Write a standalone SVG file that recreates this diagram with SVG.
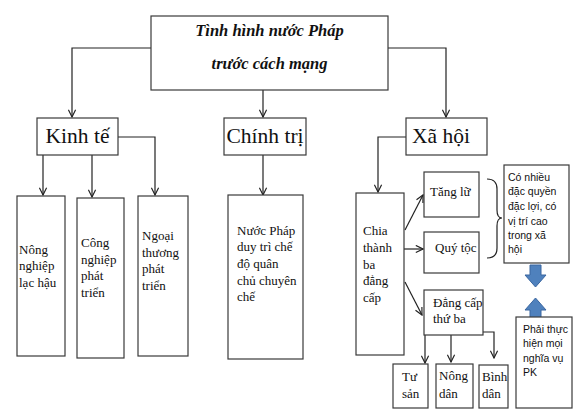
<svg xmlns="http://www.w3.org/2000/svg" width="581" height="420" viewBox="0 0 581 420">
<defs>
<style>
.box{fill:#fff;stroke:#3a3a3a;stroke-width:1.2}
.ln{fill:none;stroke:#222;stroke-width:1.2}
.t{font-family:"Liberation Serif","Times New Roman",serif;fill:#111}
.s{font-family:"Liberation Sans",Arial,sans-serif;fill:#111;font-size:10.5px}
.big{font-size:21.5px;text-anchor:middle}
.m{font-size:13px}
.blue{fill:#4f81bd;stroke:#3a66a0;stroke-width:1}
</style>
<marker id="ah" viewBox="0 0 10 10" refX="9" refY="5" markerWidth="9" markerHeight="9" markerUnits="userSpaceOnUse" orient="auto">
<path d="M1,1 L9,5 L1,9" fill="none" stroke="#222" stroke-width="1.3"/>
</marker>
</defs>
<rect width="581" height="420" fill="#fff"/>

<g id="connectors">
<path class="ln" d="M151,48 H72 V117" marker-end="url(#ah)"/>
<path class="ln" d="M263,90 V117" marker-end="url(#ah)"/>
<path class="ln" d="M388,48 H446 V117" marker-end="url(#ah)"/>
<path class="ln" d="M43,155 V195" marker-end="url(#ah)"/>
<path class="ln" d="M92,155 V197" marker-end="url(#ah)"/>
<path class="ln" d="M118,137 H155 V195" marker-end="url(#ah)"/>
<path class="ln" d="M263,155 V195" marker-end="url(#ah)"/>
<path class="ln" d="M406,137 H378 V192" marker-end="url(#ah)"/>
<path class="ln" d="M405,230 L423,195" marker-end="url(#ah)"/>
<path class="ln" d="M404,249 H423" marker-end="url(#ah)"/>
<path class="ln" d="M405,282 L422,315" marker-end="url(#ah)"/>
<path class="ln" d="M425,335 V363" marker-end="url(#ah)"/>
<path class="ln" d="M451,335 V362" marker-end="url(#ah)"/>
<path class="ln" d="M483,332 H494 V358" marker-end="url(#ah)"/>
<path class="ln" d="M487,179 Q497,179 497,189 V210 Q497,218 502,218 Q497,218 497,226 V248 Q497,258 487,258"/>
<path class="blue" d="M530,265 H541 V275 H546 L535.5,287 L525,275 H530 Z"/>
<path class="blue" d="M535.5,298 L546,310 H541 V318 H530 V310 H525 Z"/>
</g>

<g id="title">
<rect class="box" x="151" y="16" width="237" height="74"/>
<text class="t" x="269.5" y="36" font-size="16.5" font-weight="bold" font-style="italic" text-anchor="middle">Tình hình nước Pháp</text>
<text class="t" x="269.5" y="69" font-size="16.5" font-weight="bold" font-style="italic" text-anchor="middle">trước cách mạng</text>
</g>

<g id="kinhte">
<rect class="box" x="37" y="118" width="81" height="37"/>
<text class="t big" x="77.5" y="143">Kinh tế</text>
</g>
<g id="chinhtri">
<rect class="box" x="224" y="118" width="82" height="37"/>
<text class="t big" x="265" y="143">Chính trị</text>
</g>
<g id="xahoi">
<rect class="box" x="406" y="118" width="81" height="37"/>
<text class="t big" x="441" y="143">Xã hội</text>
</g>

<g id="nongnghiep">
<rect class="box" x="17" y="196" width="48" height="160"/>
<text class="t m"><tspan x="19" y="254">Nông</tspan><tspan x="19" y="270">nghiệp</tspan><tspan x="19" y="287">lạc hậu</tspan></text>
</g>
<g id="congnghiep">
<rect class="box" x="77" y="198" width="47" height="160"/>
<text class="t m"><tspan x="81" y="247">Công</tspan><tspan x="81" y="264">nghiệp</tspan><tspan x="81" y="280">phát</tspan><tspan x="81" y="297">triển</tspan></text>
</g>
<g id="ngoaithuong">
<rect class="box" x="138" y="196" width="50" height="160"/>
<text class="t m"><tspan x="142" y="240">Ngoại</tspan><tspan x="142" y="257">thương</tspan><tspan x="142" y="273">phát</tspan><tspan x="142" y="290">triển</tspan></text>
</g>
<g id="nuocphap">
<rect class="box" x="228" y="195" width="75" height="164"/>
<text class="t m"><tspan x="237" y="235">Nước Pháp</tspan><tspan x="237" y="251">duy trì chế</tspan><tspan x="237" y="268">độ quân</tspan><tspan x="237" y="285">chủ chuyên</tspan><tspan x="237" y="301">chế</tspan></text>
</g>

<g id="chia">
<rect class="box" x="356" y="193" width="48" height="162"/>
<text class="t m"><tspan x="363" y="235">Chia</tspan><tspan x="363" y="252">thành</tspan><tspan x="363" y="269">ba</tspan><tspan x="363" y="285">đẳng</tspan><tspan x="363" y="302">cấp</tspan></text>
</g>
<g id="tangl">
<rect class="box" x="424" y="172" width="55" height="45"/>
<text class="t m" x="430" y="196">Tăng lữ</text>
</g>
<g id="quytoc">
<rect class="box" x="424" y="232" width="55" height="41"/>
<text class="t m" x="435" y="252">Quý tộc</text>
</g>
<g id="dangcap3">
<rect class="box" x="424" y="290" width="59" height="45"/>
<text class="t m"><tspan x="433" y="307">Đẳng cấp</tspan><tspan x="433" y="323">thứ ba</tspan></text>
</g>
<g id="tusan">
<rect class="box" x="393" y="364" width="35" height="44"/>
<text class="t m"><tspan x="402" y="381">Tư</tspan><tspan x="402" y="398">sản</tspan></text>
</g>
<g id="nongdan">
<rect class="box" x="436" y="364" width="37" height="44"/>
<text class="t m"><tspan x="439" y="380">Nông</tspan><tspan x="439" y="398">dân</tspan></text>
</g>
<g id="binhdan">
<rect class="box" x="479" y="365" width="29" height="43"/>
<text class="t m"><tspan x="482" y="381">Bình</tspan><tspan x="482" y="398">dân</tspan></text>
</g>
<g id="conhieu">
<rect class="box" x="504" y="165" width="65" height="98"/>
<text class="s"><tspan x="508" y="181">Có nhiều</tspan><tspan x="508" y="195">đặc quyền</tspan><tspan x="508" y="210">đặc lợi, có</tspan><tspan x="508" y="225">vị trí cao</tspan><tspan x="508" y="239">trong xã</tspan><tspan x="508" y="253">hội</tspan></text>
</g>
<g id="phaithuc">
<rect class="box" x="516" y="317" width="56" height="91"/>
<text class="s"><tspan x="523" y="333">Phải thực</tspan><tspan x="523" y="347">hiện mọi</tspan><tspan x="523" y="362">nghĩa vụ</tspan><tspan x="523" y="376">PK</tspan></text>
</g>
</svg>
